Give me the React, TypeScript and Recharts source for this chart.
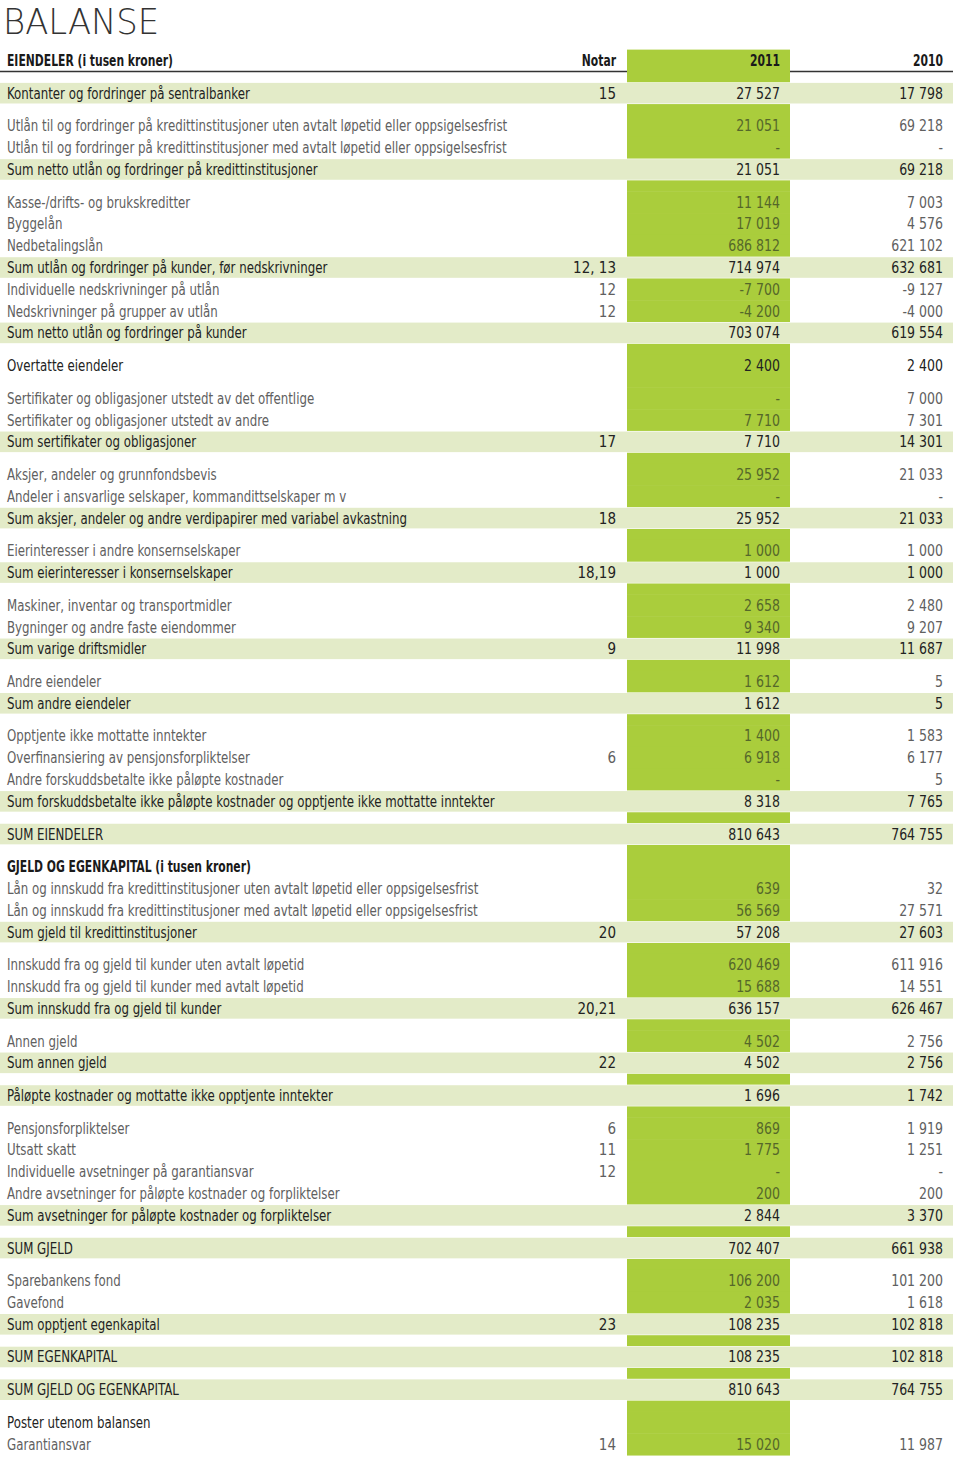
import React from 'react';
import { ScatterChart, Scatter, XAxis, YAxis } from 'recharts';

// Balance sheet rows, top to bottom (2011 and 2010, in thousand NOK)
const rowLabels = [
  'EIENDELER (i tusen kroner)',
  'Kontanter og fordringer på sentralbanker',
  'Utlån til og fordringer på kredittinstitusjoner uten avtalt løpetid eller oppsigelsesfrist',
  'Utlån til og fordringer på kredittinstitusjoner med avtalt løpetid eller oppsigelsesfrist',
  'Sum netto utlån og fordringer på kredittinstitusjoner',
  'Kasse-/drifts- og brukskreditter',
  'Byggelån',
  'Nedbetalingslån',
  'Sum utlån og fordringer på kunder, før nedskrivninger',
  'Individuelle nedskrivninger på utlån',
  'Nedskrivninger på grupper av utlån',
  'Sum netto utlån og fordringer på kunder',
  'Overtatte eiendeler',
  'Sertifikater og obligasjoner utstedt av det offentlige',
  'Sertifikater og obligasjoner utstedt av andre',
  'Sum sertifikater og obligasjoner',
  'Aksjer, andeler og grunnfondsbevis',
  'Andeler i ansvarlige selskaper, kommandittselskaper m v',
  'Sum aksjer, andeler og andre verdipapirer med variabel avkastning',
  'Eierinteresser i andre konsernselskaper',
  'Sum eierinteresser i konsernselskaper',
  'Maskiner, inventar og transportmidler',
  'Bygninger og andre faste eiendommer',
  'Sum varige driftsmidler',
  'Andre eiendeler',
  'Sum andre eiendeler',
  'Opptjente ikke mottatte inntekter',
  'Overfinansiering av pensjonsforpliktelser',
  'Andre forskuddsbetalte ikke påløpte kostnader',
  'Sum forskuddsbetalte ikke påløpte kostnader og opptjente ikke mottatte inntekter',
  'SUM EIENDELER',
  'GJELD OG EGENKAPITAL (i tusen kroner)',
  'Lån og innskudd fra kredittinstitusjoner uten avtalt løpetid eller oppsigelsesfrist',
  'Lån og innskudd fra kredittinstitusjoner med avtalt løpetid eller oppsigelsesfrist',
  'Sum gjeld til kredittinstitusjoner',
  'Innskudd fra og gjeld til kunder uten avtalt løpetid',
  'Innskudd fra og gjeld til kunder med avtalt løpetid',
  'Sum innskudd fra og gjeld til kunder',
  'Annen gjeld',
  'Sum annen gjeld',
  'Påløpte kostnader og mottatte ikke opptjente inntekter',
  'Pensjonsforpliktelser',
  'Utsatt skatt',
  'Individuelle avsetninger på garantiansvar',
  'Andre avsetninger for påløpte kostnader og forpliktelser',
  'Sum avsetninger for påløpte kostnader og forpliktelser',
  'SUM GJELD',
  'Sparebankens fond',
  'Gavefond',
  'Sum opptjent egenkapital',
  'SUM EGENKAPITAL',
  'SUM GJELD OG EGENKAPITAL',
  'Poster utenom balansen',
  'Garantiansvar',
];

// head = bold section header, sum = highlighted row, strong = dark text, plain = grey text
const rowKinds = [
  'head', 'sum', 'plain', 'plain', 'sum', 'plain', 'plain', 'plain', 'sum', 'plain',
  'plain', 'sum', 'strong', 'plain', 'plain', 'sum', 'plain', 'plain', 'sum', 'plain',
  'sum', 'plain', 'plain', 'sum', 'plain', 'sum', 'plain', 'plain', 'plain', 'sum',
  'sum', 'head', 'plain', 'plain', 'sum', 'plain', 'plain', 'sum', 'plain', 'sum',
  'sum', 'plain', 'plain', 'plain', 'plain', 'sum', 'sum', 'plain', 'plain', 'sum',
  'sum', 'sum', 'strong', 'plain',
];

const rowNotes = [
  '', '15', '', '', '', '', '', '', '12, 13', '12',
  '12', '', '', '', '', '17', '', '', '18', '',
  '18,19', '', '', '9', '', '', '', '6', '', '',
  '', '', '', '', '20', '', '', '20,21', '', '22',
  '', '6', '11', '12', '', '', '', '', '', '23',
  '', '', '', '14',
];

// null = shown as "-"
const values2011 = [
  null, 27527, 21051, null, 21051, 11144, 17019, 686812, 714974, -7700,
  -4200, 703074, 2400, null, 7710, 7710, 25952, null, 25952, 1000,
  1000, 2658, 9340, 11998, 1612, 1612, 1400, 6918, null, 8318,
  810643, null, 639, 56569, 57208, 620469, 15688, 636157, 4502, 4502,
  1696, 869, 1775, null, 200, 2844, 702407, 106200, 2035, 108235,
  108235, 810643, null, 15020,
];

const values2010 = [
  null, 17798, 69218, null, 69218, 7003, 4576, 621102, 632681, -9127,
  -4000, 619554, 2400, 7000, 7301, 14301, 21033, null, 21033, 1000,
  1000, 2480, 9207, 11687, 5, 5, 1583, 6177, 5, 7765,
  764755, null, 32, 27571, 27603, 611916, 14551, 626467, 2756, 2756,
  1742, 1919, 1251, null, 200, 3370, 661938, 101200, 1618, 102818,
  102818, 764755, null, 11987,
];

// a half-row space follows these rows
const gapAfter = [0, 1, 4, 11, 12, 15, 18, 20, 23, 25, 29, 30, 34, 37, 39, 40, 45, 46, 49, 50, 51];

const title = 'BALANSE';
const headerColumns = ['Notar', '2011', '2010'];

const FONT = "'Liberation Sans Narrow', 'Arial Narrow', 'DejaVu Sans Condensed', sans-serif";
const WIDTH = 960;
const HEIGHT = 1461;
const Y_MIN = -2.777;
const Y_MAX = 64.273;
const ROW = HEIGHT / (Y_MAX - Y_MIN);

const GREEN = '#aacd3c';
const LIGHT = '#e3ebc8';
const COL_LEFT = 627;
const COL_RIGHT = 790;
const TABLE_RIGHT = 953;
const LABEL_X = 7;
const NOTE_X = 616;
const V2011_X = 780;
const V2010_X = 943;

// horizontal squeeze so the condensed fallback font fits the narrow original
const SX_TEXT = 0.876;
const SX_BOLD = 0.8;
const SX_NUM = 0.93;

const fmt = (v: number | null) => {
  if (v == null) return '-';
  const s = Math.abs(v).toString().replace(/\B(?=(\d{3})+(?!\d))/g, ' ');
  return v < 0 ? '-' + s : s;
};

let gapsSoFar = 0;
const rows = rowLabels.map((label, i) => {
  const pos = i + gapsSoFar * 0.5;
  const gap = gapAfter.includes(i);
  if (gap) gapsSoFar += 1;
  return {
    x: 0,
    pos,
    label,
    kind: rowKinds[i],
    note: rowNotes[i],
    v2011: values2011[i],
    v2010: values2010[i],
    gap,
    first: i === 0,
  };
});

const T = ({ x, y, sx, anchor, fill, bold, children }: any) => (
  <text
    transform={`translate(${x} ${y}) scale(${sx} 1)`}
    textAnchor={anchor || 'start'}
    fill={fill}
    fontWeight={bold ? 'bold' : 'normal'}
  >
    {children}
  </text>
);

// green 2011 column, piece by piece
const ColumnCell = (props: any) => {
  const { cy, payload } = props;
  const top = cy - ROW / 2;
  const h = ROW + (payload.gap ? ROW / 2 : 0) + 0.5;
  return (
    <g>
      {payload.first && (
        <line x1={0} x2={TABLE_RIGHT} y1={cy + 11} y2={cy + 11} stroke="#333" strokeWidth={1.3} />
      )}
      <rect x={COL_LEFT} y={top} width={COL_RIGHT - COL_LEFT} height={h} fill={GREEN} />
    </g>
  );
};

const RowCell = (props: any) => {
  const { cy, payload } = props;
  const { kind } = payload;
  const base = cy + 5.5;
  if (kind === 'head') {
    return (
      <g fontFamily={FONT} fontSize={15}>
        {payload.first && (
          <text
            transform={`translate(3 ${cy - 27}) scale(0.94 1)`}
            fontFamily="'DejaVu Sans', sans-serif"
            fontWeight={200}
            fontSize={36}
            fill="#333"
          >
            {title}
          </text>
        )}
        <T x={LABEL_X} y={base} sx={SX_BOLD} fill="#1a1a1a" bold>{payload.label}</T>
        {payload.first && (
          <>
            <T x={NOTE_X} y={base} sx={SX_BOLD} anchor="end" fill="#1a1a1a" bold>{headerColumns[0]}</T>
            <T x={V2011_X} y={base} sx={SX_BOLD} anchor="end" fill="#1a1a1a" bold>{headerColumns[1]}</T>
            <T x={V2010_X} y={base} sx={SX_BOLD} anchor="end" fill="#1a1a1a" bold>{headerColumns[2]}</T>
          </>
        )}
      </g>
    );
  }
  const dark = kind === 'sum' || kind === 'strong';
  const textFill = dark ? '#222' : '#606060';
  const colFill = dark ? '#222' : '#55672a';
  return (
    <g fontFamily={FONT} fontSize={15}>
      {kind === 'sum' && (
        <>
          <rect x={0} y={cy - ROW / 2} width={TABLE_RIGHT} height={ROW} fill="#fff" />
          <rect x={0} y={cy - 10.3} width={TABLE_RIGHT} height={20.6} fill={LIGHT} />
        </>
      )}
      <T x={LABEL_X} y={base} sx={SX_TEXT} fill={textFill}>{payload.label}</T>
      {payload.note && (
        <T x={NOTE_X} y={base} sx={1} anchor="end" fill={textFill}>{payload.note}</T>
      )}
      {kind !== 'strong' || payload.v2011 != null ? (
        <>
          <T x={V2011_X} y={base} sx={SX_NUM} anchor="end" fill={colFill}>{fmt(payload.v2011)}</T>
          <T x={V2010_X} y={base} sx={SX_NUM} anchor="end" fill={textFill}>{fmt(payload.v2010)}</T>
        </>
      ) : null}
    </g>
  );
};

const App: React.FC = () => {
  return (
    <div style={{ position: 'relative', width: WIDTH, height: HEIGHT, background: '#fff' }}>
      <style>{'body{margin:0}'}</style>
      <ScatterChart width={WIDTH} height={HEIGHT} margin={{ top: 0, right: 0, bottom: 0, left: 0 }}>
        <XAxis type="number" dataKey="x" domain={[0, WIDTH]} allowDataOverflow hide />
        <YAxis type="number" dataKey="pos" domain={[Y_MIN, Y_MAX]} allowDataOverflow reversed hide />
        <Scatter data={rows} shape={ColumnCell} isAnimationActive={false} />
        <Scatter data={rows} shape={RowCell} isAnimationActive={false} />
      </ScatterChart>
    </div>
  );
};

export default App;
